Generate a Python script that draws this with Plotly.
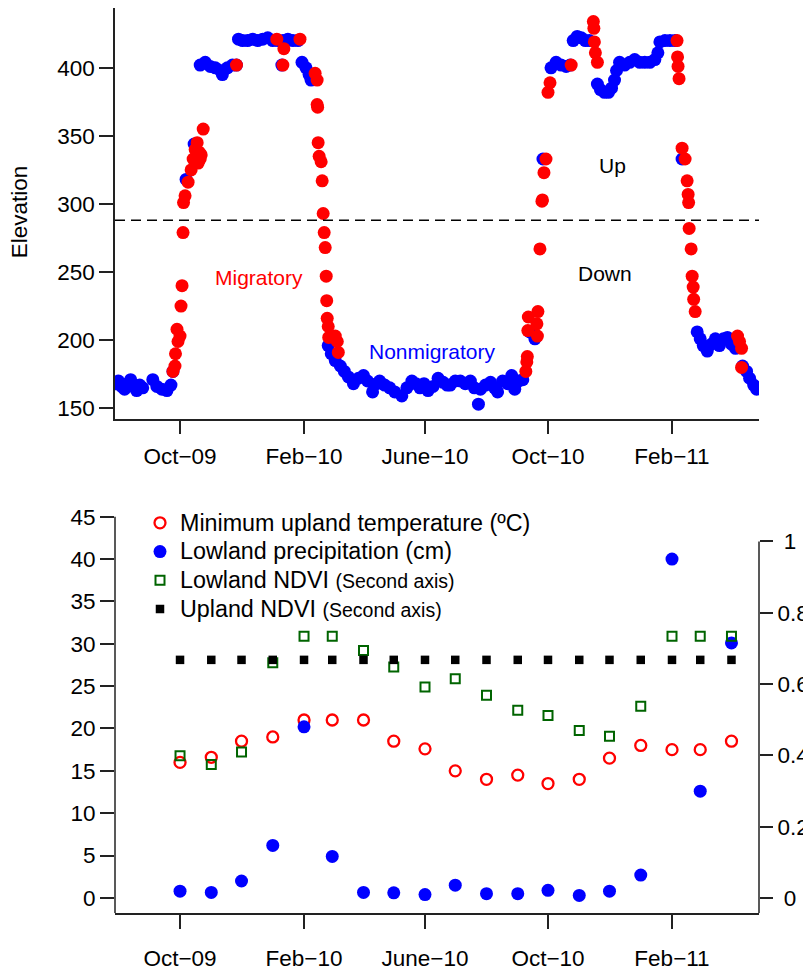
import pandas as pd
import plotly.graph_objects as go

# ---------------- data ----------------
BASE = "2009-10-01"

# Top panel: elevation of the tracked animal (days since 2009-10-01, elevation)
nonmig_days = [-64, -61, -58, -55, -52, -49, -46, -43, -40, -37,
               -27, -23, -18, -13, -9, -7,
               6, 14,
               20, 25, 30, 35, 40, 42, 47, 52, 56,
               58, 62, 67, 72, 77, 82, 87, 92, 97, 101, 102, 107, 112, 117,
               121, 125, 128, 130,
               147, 150, 154, 159, 163, 167, 172, 177, 182, 186,
               191, 195, 198, 203, 208, 213, 220, 225, 230, 234,
               238, 242, 246, 251, 256, 261, 265, 268, 273, 278,
               283, 288, 292, 296, 298, 303, 308, 312, 315, 320,
               325, 329, 332, 336, 340,
               347, 352, 360,
               368, 373, 378, 383, 387,
               390, 394, 398, 402, 406,
               414, 417, 421, 425, 428, 431, 433,
               436, 441, 446, 451, 456, 461, 466, 471, 474,
               476, 481, 486, 491,
               498,
               513, 516, 519, 523, 527, 531, 535, 539, 543, 547, 551, 558, 562, 565, 569, 572]
nonmig_elev = [168, 170, 166, 164, 168, 171, 166, 163, 167, 165,
               171, 166, 164, 163, 167, 177,
               318, 344,
               402, 404, 401, 400, 398, 395, 400, 402, 402,
               421, 420, 420, 421, 420, 421, 422, 420, 420, 402, 420, 421, 420, 420,
               404, 400, 395, 391,
               196, 190, 185, 181, 177, 173, 168, 172, 174, 170,
               162, 168, 170, 167, 165, 162, 159, 165, 170, 168,
               165, 168, 163, 166, 172, 169, 167, 167, 170, 170,
               168, 170, 165, 153, 164, 167, 169, 165, 162, 170,
               168, 174, 164, 170, 171,
               206, 201, 333,
               400, 404, 402, 401, 402,
               420, 423, 422, 420, 420,
               388, 384, 382, 382, 385, 391, 398,
               404, 402, 404, 406, 404, 404, 404, 406, 411,
               419, 420, 420, 420,
               333,
               206, 201, 196, 192, 197, 201, 196, 201, 202, 197, 194, 181, 177, 172, 167, 164]

mig_days = [-7, -5, -4.5, -2, 0, -3, 1, 2, 3, 3.5, 5, 8, 11, 13, 18, 20, 21, 15, 17, 19, 23, 56,
            96, 102, 103, 119,
            134, 136, 136, 136.5, 137, 138, 140, 141, 142, 143, 144, 145, 145.5, 146, 147, 147.5, 154, 156, 157,
            343, 344, 344.5, 345, 345.5, 354, 355, 354.5, 357, 359, 359.5, 361, 363, 365, 367, 388,
            410, 410.5, 411, 412, 414, 493,
            493.5, 494, 495, 498, 501, 503, 504, 504.5, 505, 507, 508, 509, 509.5, 511, 553, 555, 557, 557]
mig_elev = [177, 181, 190, 199, 203, 208, 225, 240, 279, 301, 306, 316, 325, 333, 330, 333, 336, 340, 345, 338, 355, 402,
            421, 402, 414, 421,
            396, 391, 373, 371, 345, 335, 331, 317, 293, 279, 268, 247, 229, 216, 210, 202, 203, 199, 191,
            177, 184, 188, 207, 217, 212, 221, 203, 267, 302, 303, 323, 333, 382, 389, 402,
            434, 429, 419, 411, 404, 420,
            408, 401, 392, 341, 333, 317, 307, 301, 282, 267, 247, 239, 230, 221, 203, 199, 194, 180]

threshold_elev = 288

tick_dates = ["2009-10-01", "2010-02-01", "2010-06-01", "2010-10-01", "2011-02-01"]
tick_labels = ["Oct\u221209", "Feb\u221210", "June\u221210", "Oct\u221210", "Feb\u221211"]

elev_ticks = [150, 200, 250, 300, 350, 400]
left_ticks = [0, 5, 10, 15, 20, 25, 30, 35, 40, 45]
right_ticks = [0, 0.2, 0.4, 0.6, 0.8, 1]
right_labels = ["\u00a00", "0.2", "0.4", "0.6", "0.8", "\u00a01"]

# Bottom panel: monthly values, Oct-09 .. Apr-11
months = ["2009-10-01", "2009-11-01", "2009-12-01", "2010-01-01", "2010-02-01", "2010-03-01",
          "2010-04-01", "2010-05-01", "2010-06-01", "2010-07-01", "2010-08-01", "2010-09-01",
          "2010-10-01", "2010-11-01", "2010-12-01", "2011-01-01", "2011-02-01", "2011-03-01",
          "2011-04-01"]
min_upland_temp = [16.0, 16.6, 18.5, 19.0, 21.0, 21.0, 21.0, 18.5, 17.6, 15.0,
                   14.0, 14.5, 13.5, 14.0, 16.5, 18.0, 17.5, 17.5, 18.5]
lowland_precip = [0.8, 0.65, 2.0, 6.2, 20.2, 4.9, 0.65, 0.6, 0.4, 1.5,
                  0.5, 0.5, 0.9, 0.3, 0.8, 2.7, 40.0, 12.6, 30.1]
lowland_ndvi = [0.399, 0.375, 0.41, 0.66, 0.734, 0.734, 0.694, 0.648, 0.592, 0.615,
                0.569, 0.527, 0.512, 0.47, 0.454, 0.538, 0.734, 0.734, 0.734]
upland_ndvi = [0.668, 0.668, 0.668, 0.668, 0.668, 0.668, 0.668, 0.668, 0.668, 0.668,
               0.668, 0.668, 0.668, 0.668, 0.668, 0.668, 0.668, 0.668, 0.668]

legend_names = ["Minimum upland temperature (\u00baC)",
                "Lowland precipitation (cm)",
                "Lowland NDVI <span style='font-size:19.5px'>(Second axis)</span>",
                "Upland NDVI <span style='font-size:19.5px'>(Second axis)</span>"]

# ---------------- layout helpers ----------------
PAGE_W, PAGE_H = 811, 971
OFF = 8                      # default page margin around the figure
W, H = PAGE_W - OFF, PAGE_H - OFF
FONT = "Liberation Sans, Arial, Helvetica, sans-serif"
LINE = "#222222"
GAP = "\u00a0\u00a0"         # extra space between left tick labels and tick marks


def fx(p):
    """page pixel x -> paper fraction"""
    return (p - OFF) / W


def fy(p):
    """page pixel y -> paper fraction"""
    return 1 - (p - OFF) / H


base = pd.Timestamp(BASE)


def to_dates(days):
    return base + pd.to_timedelta(pd.Series(days, dtype=float), unit="D")


x_start = base + pd.Timedelta(days=-64.5)
x_end = base + pd.Timedelta(days=574.3)

fig = go.Figure()

# top panel
fig.add_trace(go.Scatter(x=to_dates(nonmig_days), y=nonmig_elev, mode="markers",
                         marker=dict(color="#0000FF", size=13), xaxis="x", yaxis="y",
                         showlegend=False, name="Nonmigratory"))
fig.add_trace(go.Scatter(x=to_dates(mig_days), y=mig_elev, mode="markers",
                         marker=dict(color="#FF0000", size=13), xaxis="x", yaxis="y",
                         showlegend=False, name="Migratory"))


def lname(s):
    return "<span style='font-size:23.3px'>" + s + "</span>"


# bottom panel
fig.add_trace(go.Scatter(x=months, y=min_upland_temp, mode="markers",
                         name=lname(legend_names[0]),
                         marker=dict(symbol="circle-open", color="#FF0000", size=11,
                                     line=dict(width=2.3, color="#FF0000")),
                         xaxis="x2", yaxis="y2"))
fig.add_trace(go.Scatter(x=months, y=lowland_precip, mode="markers",
                         name=lname(legend_names[1]),
                         marker=dict(symbol="circle", color="#0000FF", size=13),
                         xaxis="x2", yaxis="y2"))
fig.add_trace(go.Scatter(x=months, y=lowland_ndvi, mode="markers",
                         name=lname(legend_names[2]),
                         marker=dict(symbol="square-open", color="#006400", size=9,
                                     line=dict(width=2, color="#006400")),
                         xaxis="x2", yaxis="y3"))
fig.add_trace(go.Scatter(x=months, y=upland_ndvi, mode="markers",
                         name=lname(legend_names[3]),
                         marker=dict(symbol="square", color="#000000", size=8.5),
                         xaxis="x2", yaxis="y3"))

tickfont = dict(family=FONT, size=22.5, color="#000000")
common_x = dict(type="date", range=[x_start, x_end], tickvals=tick_dates, ticktext=tick_labels,
                ticks="outside", ticklen=14, tickwidth=1.5, tickcolor=LINE,
                showline=True, linecolor=LINE, linewidth=1.5, showgrid=False,
                zeroline=False, tickfont=tickfont,
                domain=[fx(115), fx(759)])

fig.update_layout(
    width=W, height=H,
    margin=dict(l=0, r=0, t=0, b=0),
    paper_bgcolor="white", plot_bgcolor="white",
    font=dict(family=FONT, color="#000000"),
    xaxis=dict(anchor="y", ticklabelstandoff=3, **common_x),
    yaxis=dict(domain=[fy(420), fy(8)], range=[142.3, 443.9], tickvals=elev_ticks,
               ticksuffix=GAP,
               ticks="outside", ticklen=14, tickwidth=1.5, tickcolor=LINE,
               showline=True, linecolor=LINE, linewidth=1.5, showgrid=False,
               zeroline=False, tickfont=tickfont, anchor="x"),
    xaxis2=dict(anchor="y2", ticklabelstandoff=10, **common_x),
    yaxis2=dict(domain=[fy(916), fy(503)], range=[-1.8, 46.8], tickvals=left_ticks,
                ticksuffix=GAP,
                ticks="outside", ticklen=14, tickwidth=1.5, tickcolor=LINE,
                showline=False, showgrid=False, zeroline=False, tickfont=tickfont,
                anchor="x2"),
    yaxis3=dict(overlaying="y2", side="right", range=[-0.042, 1.112], tickvals=right_ticks,
                ticktext=right_labels, ticks="outside", ticklen=13, tickwidth=1.5,
                tickcolor=LINE, showline=False, showgrid=False, zeroline=False,
                tickfont=tickfont, anchor="x2"),
    legend=dict(x=fx(140), y=fy(505), xanchor="left", yanchor="top",
                font=dict(family=FONT, size=19.8, color="#000000"),
                bgcolor="rgba(0,0,0,0)", borderwidth=0, itemwidth=30, tracegroupgap=0),
    showlegend=True,
)

fig.add_shape(type="line", xref="x domain", x0=0, x1=1, yref="y",
              y0=threshold_elev, y1=threshold_elev,
              line=dict(color="#000000", width=1.5, dash="10px,6px"))
fig.add_shape(type="line", xref="x2 domain", x0=0, x1=0, yref="y2",
              y0=-1.8, y1=max(left_ticks), line=dict(color=LINE, width=1.5))
fig.add_shape(type="line", xref="x2 domain", x0=1, x1=1, yref="y3",
              y0=-0.042, y1=max(right_ticks), line=dict(color=LINE, width=1.5))

ann = dict(xref="paper", yref="paper", showarrow=False, xanchor="center", yanchor="middle")
ann_font = dict(family=FONT, size=21)
fig.add_annotation(text="Elevation", x=fx(19), y=fy(213), textangle=-90,
                   font=dict(family=FONT, size=22.5, color="#000000"), **ann)
fig.add_annotation(text="Migratory", x=fx(259), y=fy(278),
                   font=dict(color="#FF0000", **ann_font), **ann)
fig.add_annotation(text="Nonmigratory", x=fx(432), y=fy(353),
                   font=dict(color="#0000FF", **ann_font), **ann)
fig.add_annotation(text="Up", x=fx(612), y=fy(166),
                   font=dict(color="#000000", **ann_font), **ann)
fig.add_annotation(text="Down", x=fx(605), y=fy(274),
                   font=dict(color="#000000", **ann_font), **ann)

fig.write_html("out.html")
